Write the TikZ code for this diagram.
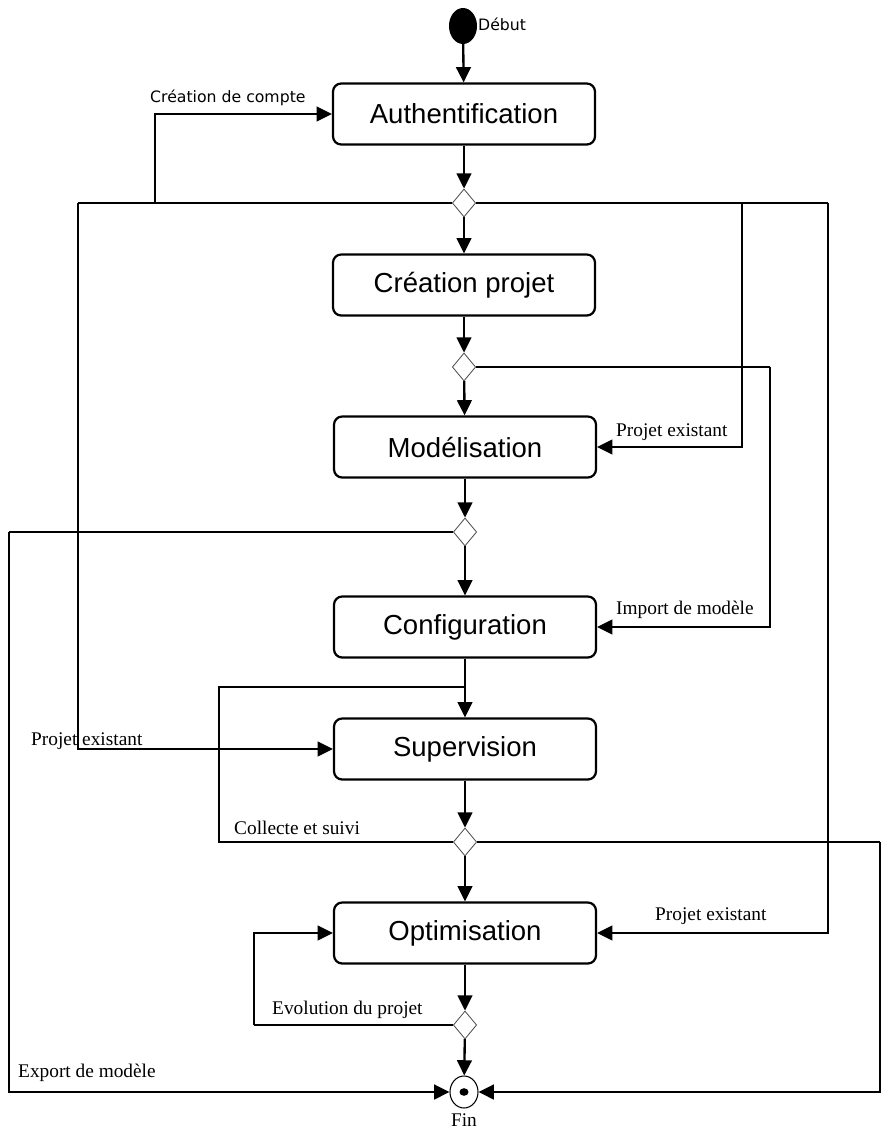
\documentclass[tikz,border=0pt]{standalone}
\usepackage{fontspec}
\setmainfont{Liberation Serif}
\newfontfamily\boxfont{Liberation Sans}
\newfontfamily\labfont{DejaVu Sans}
\usetikzlibrary{arrows.meta,shapes.geometric}
\begin{document}
\begin{tikzpicture}[x=0.03cm,y=-0.03cm,
  activity/.style={draw, line width=1.9pt, rounded corners=7pt,
    minimum width=7.86cm, minimum height=1.83cm, inner sep=0pt,
    font=\boxfont\fontsize{23.5}{27}\selectfont},
  choice/.style={draw=black!70, line width=0.7pt, diamond,
    minimum width=0.7cm, minimum height=0.84cm, inner sep=0pt, fill=white},
  wire/.style={line width=2pt},
  flow/.style={wire, -{Triangle[length=13pt,width=12.5pt]}},
  guard/.style={anchor=west, inner sep=0pt, font=\fontsize{16.5}{19}\selectfont},
  sanslabel/.style={anchor=west, inner sep=0pt, font=\labfont\fontsize{13.4}{16}\selectfont},
  startnode/.style={ellipse, fill=black, minimum width=0.84cm, minimum height=1.08cm, inner sep=0pt},
  endnode/.style={ellipse, draw, line width=0.9pt, minimum width=0.84cm, minimum height=0.96cm, inner sep=0pt}]
\useasboundingbox (0,0) rectangle (882,1136);

% start and end
\node[startnode] (start) at (463,26) {};
\node[sanslabel] (tstart) at (478,24) {Début};
\node[endnode] (fin) at (464,1092) {};
\fill (fin.center) ellipse [x radius=4.5, y radius=3.8];
\node[inner sep=0pt, font=\fontsize{16.5}{19}\selectfont] (tfin) at (464,1120) {Fin};

% activities
\node[activity] (auth) at (464,114) {Authentification};
\node[activity] (crea) at (464,285) {Création projet};
\node[activity] (mod)  at (465,447) {Modélisation};
\node[activity] (conf) at (465,627) {Configuration};
\node[activity] (sup)  at (465,749) {Supervision};
\node[activity] (opt)  at (465,933) {Optimisation};

% decisions
\node[choice] (d1) at (464,203) {};
\node[choice] (d2) at (464,367) {};
\node[choice] (d3) at (465,532) {};
\node[choice] (d4) at (465,842) {};
\node[choice] (d5) at (465,1025) {};

% bend points
\coordinate (cL)  at (78,203);
\coordinate (cA)  at (155,203);
\coordinate (cR1) at (742,203);
\coordinate (cR2) at (828,203);
\coordinate (cI)  at (770,367);
\coordinate (cX)  at (9,532);
\coordinate (cC)  at (219,687);
\coordinate (cJ)  at (465,687);
\coordinate (cE)  at (880,842);
\coordinate (cV)  at (254,1025);

% main sequence
\draw[flow] (start) -- (auth);
\draw[flow] (auth) -- (d1);
\draw[flow] (d1) -- (crea);
\draw[flow] (crea) -- (d2);
\draw[flow] (d2) -- (mod);
\draw[flow] (mod) -- (d3);
\draw[flow] (d3) -- (conf);
\draw[flow] (conf) -- (sup);
\draw[flow] (sup) -- (d4);
\draw[flow] (d4) -- (opt);
\draw[flow] (opt) -- (d5);
\draw[flow] (d5) -- (fin);

% branches
\draw[wire] (d1.west) -- (cL);
\draw[flow] (cL) |- (sup.west);
\draw[flow] (cA) |- (auth.west);
\draw[wire] (d1.east) -- (cR2);
\draw[flow] (cR1) |- (mod.east);
\draw[flow] (cR2) |- (opt.east);
\draw[wire] (d2.east) -- (cI);
\draw[flow] (cI) |- (conf.east);
\draw[wire] (d3.west) -- (cX);
\draw[flow] (cX) |- (fin.west);
\draw[wire] (d4.west) -| (cC) -- (cJ);
\draw[wire] (d4.east) -- (cE);
\draw[flow] (cE) |- (fin.east);
\draw[wire] (d5.west) -- (cV);
\draw[flow] (cV) |- (opt.west);

% guards
\node[sanslabel] (g1) at (150,98) {Création de compte};
\node[guard] (g2) at (616,432) {Projet existant};
\node[guard] (g3) at (616,610) {Import de modèle};
\node[guard] (g4) at (31,741) {Projet existant};
\node[guard] (g5) at (234,828) {Collecte et suivi};
\node[guard] (g6) at (655,916) {Projet existant};
\node[guard] (g7) at (272,1010) {Evolution du projet};
\node[guard] (g8) at (18,1073) {Export de modèle};
\end{tikzpicture}
\end{document}
